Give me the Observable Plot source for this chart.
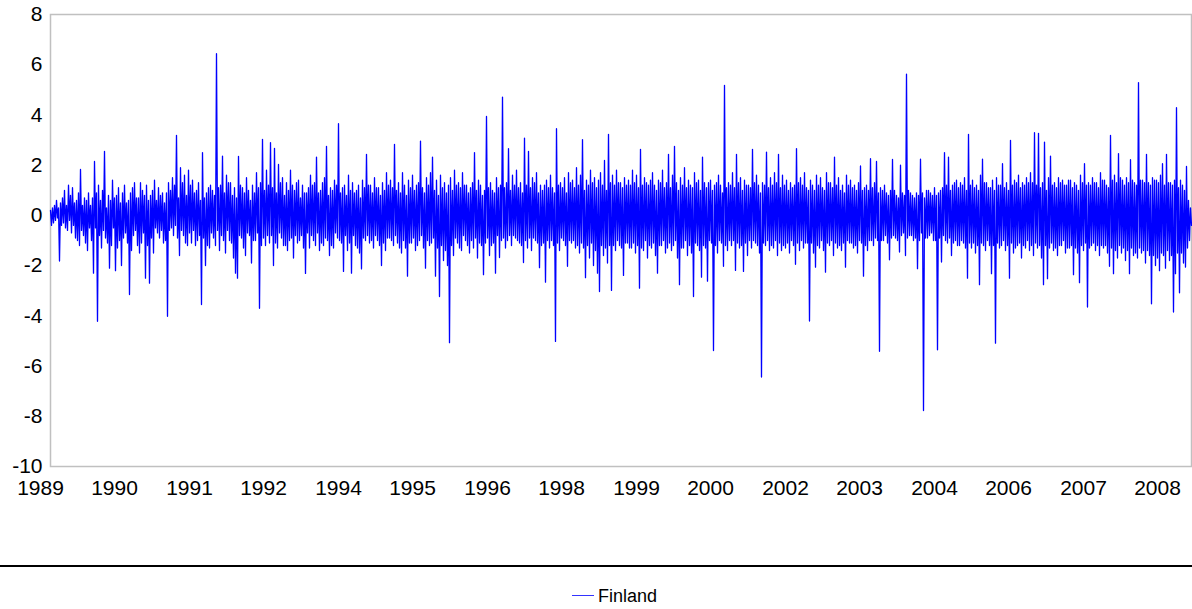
<!DOCTYPE html>
<html>
<head>
<meta charset="utf-8">
<script src="https://cdn.jsdelivr.net/npm/d3@7"></script>
<script src="https://cdn.jsdelivr.net/npm/@observablehq/plot@0.6"></script>
<style>
  html, body { margin: 0; padding: 0; background: #fff; }
  body { width: 1192px; height: 609px; overflow: hidden; font-family: "Liberation Sans", Arial, sans-serif; }
  #rule { margin-top: 55px; border-top: 2px solid #000; width: 1192px; }
  #legend { position: relative; height: 40px; }
  #legend .sw { position: absolute; left: 572px; top: 28px; width: 22px; height: 0; border-top: 1px solid #3333ff; }
  #legend .lb { position: absolute; left: 598px; top: 19px; font-size: 18px; color: #000; line-height: 20px; }
</style>
</head>
<body>
<div id="chart"></div>
<div id="rule"></div>
<div id="legend"><span class="sw"></span><span class="lb">Finland</span></div>
<script>
const seriesName = "Finland";
const finland = [
0.2,-0.4, 0.3,-0.3, 0.4,-0.2, 0.6,-0.1, 0.3,-1.82, 0.5,-0.4, 0.7,-0.3, 1.0,-0.5, 0.4,-0.6, 1.2,-0.2,
0.8,-0.7, 1.1,-0.4, 0.5,-0.9, 0.6,-1.0, 0.9,-1.2, 1.83,-0.6, 0.4,-0.8, 0.7,-1.1, 0.6,-1.4, 0.9,-0.5,
0.4,-1.0, 0.7,-2.3, 2.15,-0.5, 0.9,-4.22, 1.2,-0.8, 0.6,-1.3, 1.0,-0.6, 2.55,-0.9, 0.3,-1.1, 0.8,-2.1,
0.6,-1.2, 1.4,-0.5, 0.7,-2.2, 0.8,-1.3, 1.1,-1.0, 0.5,-2.0, 0.9,-0.9, 1.2,-0.7, 0.5,-1.1, 0.6,-3.15,
0.9,-1.4, 1.1,-0.8, 1.3,-0.6, 0.7,-1.2, 0.7,-1.5, 1.3,-1.1, 1.0,-0.7, 0.8,-2.5, 1.2,-1.2, 0.6,-2.7,
0.8,-0.9, 1.0,-1.5, 1.4,-0.5, 0.6,-0.7, 1.1,-0.9, 0.8,-0.6, 0.9,-1.1, 0.5,-1.0, 0.9,-4.02, 1.3,-0.6,
1.0,-0.5, 1.5,-0.8, 1.2,-0.4, 3.19,-0.9, 0.7,-1.6, 1.9,-0.6, 1.3,-0.8, 1.6,-1.1, 0.8,-1.2, 1.8,-0.7,
1.2,-1.1, 1.4,-0.6, 0.9,-1.2, 1.0,-1.0, 1.3,-0.8, 0.6,-3.55, 2.5,-0.9, 0.7,-2.0, 0.9,-1.2, 1.1,-1.3,
1.2,-0.7, 1.0,-0.9, 0.8,-1.2, 6.44,-0.6, 1.1,-1.4, 1.2,-0.8, 2.36,-1.0, 0.9,-1.5, 1.6,-0.6, 1.3,-1.0,
1.3,-1.1, 0.8,-1.7, 1.1,-2.3, 0.7,-2.5, 2.35,-0.8, 1.2,-0.9, 1.1,-1.3, 0.9,-1.6, 1.5,-0.7, 1.0,-0.8,
0.6,-1.9, 1.2,-1.0, 0.9,-1.0, 1.7,-0.7, 1.1,-3.7, 1.3,-1.2, 3.03,-0.9, 1.0,-1.2, 1.8,-0.8, 1.2,-1.1,
2.9,-0.8, 1.1,-2.0, 2.67,-1.1, 0.9,-1.3, 2.03,-0.7, 1.3,-0.9, 1.5,-1.2, 0.8,-1.2, 1.3,-1.4, 1.0,-1.0,
1.8,-0.9, 1.2,-1.7, 1.0,-0.8, 1.3,-1.1, 1.4,-1.0, 0.7,-0.8, 1.2,-1.3, 0.9,-2.31, 0.9,-0.7, 1.1,-1.3,
1.6,-0.8, 1.2,-1.0, 1.3,-1.2, 2.32,-0.7, 0.9,-1.4, 1.0,-1.1, 1.3,-1.2, 1.5,-0.9, 2.75,-1.0, 0.8,-1.6,
1.1,-1.2, 1.0,-1.3, 1.4,-0.7, 1.2,-0.9, 3.65,-1.0, 0.9,-1.1, 1.1,-2.23, 1.2,-0.8, 0.8,-1.4, 1.6,-1.1,
1.0,-2.3, 1.3,-0.8, 0.9,-1.2, 1.0,-1.3, 1.2,-1.5, 0.7,-2.13, 1.4,-0.9, 1.1,-1.0, 2.43,-0.8, 1.2,-1.1,
1.2,-1.0, 0.9,-1.3, 1.5,-0.8, 1.1,-1.0, 1.1,-1.2, 0.8,-2.0, 1.3,-1.1, 1.0,-1.4, 1.7,-0.9, 1.2,-0.9,
1.4,-1.0, 1.1,-1.2, 2.83,-0.8, 1.0,-1.1, 1.3,-1.3, 0.9,-1.5, 1.7,-1.0, 1.2,-1.3, 0.8,-2.42, 1.4,-1.1,
1.1,-1.1, 1.6,-0.9, 1.0,-1.4, 1.2,-1.2, 1.3,-1.0, 2.96,-0.8, 1.1,-1.3, 0.9,-2.1, 1.5,-1.0, 1.2,-1.2,
1.7,-1.1, 2.32,-0.9, 1.0,-2.42, 1.4,-1.3, 0.8,-3.23, 1.6,-1.2, 1.1,-1.8, 1.3,-1.4, 0.9,-2.0, 1.2,-5.07,
1.5,-1.2, 1.0,-1.6, 1.8,-0.9, 1.2,-1.1, 1.3,-1.3, 1.1,-1.4, 1.7,-0.8, 1.2,-1.0, 1.2,-1.2, 0.9,-1.5,
1.1,-1.0, 1.3,-1.3, 2.5,-0.9, 1.0,-1.7, 1.4,-1.1, 1.2,-1.2, 0.8,-2.36, 1.0,-1.1, 3.94,-0.9, 1.1,-1.6,
1.3,-1.2, 1.0,-1.1, 0.9,-2.3, 1.5,-0.8, 1.1,-1.68, 1.2,-1.0, 4.71,-0.9, 1.1,-1.3, 1.3,-1.0, 2.66,-0.8,
1.0,-1.2, 1.6,-0.8, 1.2,-0.9, 1.8,-1.0, 1.1,-1.1, 1.3,-1.2, 0.9,-1.88, 3.08,-1.0, 1.2,-1.3, 2.55,-0.9,
1.1,-1.4, 1.5,-0.9, 1.3,-1.0, 1.7,-1.1, 0.9,-2.08, 1.2,-1.2, 1.0,-1.1, 1.2,-2.66, 1.4,-1.0, 1.1,-1.3,
1.6,-1.0, 1.1,-1.2, 0.9,-5.02, 3.45,-1.1, 1.2,-1.4, 1.3,-0.9, 1.1,-1.0, 1.5,-1.2, 0.9,-2.03, 1.7,-1.0,
1.3,-1.1, 1.4,-1.0, 1.1,-1.3, 1.9,-1.2, 1.2,-1.5, 1.6,-1.1, 3.02,-1.3, 1.0,-2.48, 1.4,-1.2, 1.2,-1.7,
1.8,-1.1, 1.3,-2.0, 1.5,-1.4, 1.1,-2.3, 1.4,-3.03, 1.7,-1.2, 1.2,-1.6, 2.19,-1.3, 1.0,-1.9, 3.23,-1.2,
1.3,-2.99, 1.6,-1.2, 1.2,-1.4, 1.8,-1.0, 1.3,-1.2, 1.3,-1.3, 1.1,-2.39, 1.5,-1.1, 1.2,-1.1, 1.4,-1.3,
1.2,-1.3, 1.8,-1.1, 1.3,-1.5, 1.6,-1.2, 1.1,-2.9, 2.63,-1.3, 1.2,-1.4, 1.5,-1.0, 1.3,-1.7, 1.2,-1.2,
1.4,-1.3, 1.7,-1.1, 1.2,-1.6, 1.0,-2.3, 1.4,-1.2, 1.3,-1.2, 1.8,-1.0, 1.1,-1.5, 1.3,-1.3, 2.43,-1.1,
1.1,-1.4, 1.6,-1.2, 2.75,-1.0, 1.3,-1.7, 1.0,-2.76, 1.5,-1.3, 1.2,-1.3, 1.9,-1.0, 1.1,-1.6, 1.4,-1.2,
1.2,-1.5, 1.1,-3.23, 1.7,-1.1, 1.3,-1.2, 1.4,-1.4, 1.0,-2.46, 2.32,-1.2, 1.3,-1.3, 1.1,-2.62, 1.3,-1.0,
1.4,-1.1, 1.0,-5.38, 1.2,-1.2, 1.3,-1.5, 1.6,-1.0, 1.2,-1.1, 0.9,-2.03, 5.18,-1.2, 1.1,-1.4, 1.3,-1.0,
1.2,-1.2, 1.7,-1.0, 1.1,-2.19, 2.43,-1.1, 1.3,-1.3, 1.5,-1.2, 1.0,-2.23, 1.4,-1.1, 1.2,-1.6, 1.2,-1.0,
1.1,-1.3, 2.63,-1.0, 1.3,-1.1, 1.6,-1.2, 1.2,-1.5, 0.9,-6.44, 1.3,-1.1, 1.2,-1.2, 2.52,-1.0, 1.1,-1.4,
1.5,-1.2, 1.2,-1.3, 1.7,-1.0, 1.3,-1.6, 2.43,-1.1, 1.1,-1.4, 1.6,-1.2, 1.2,-1.3, 1.4,-1.1, 1.0,-1.5,
1.3,-1.0, 1.1,-1.2, 1.2,-1.95, 2.66,-1.1, 1.3,-1.4, 1.5,-1.0, 1.2,-1.3, 1.7,-1.1, 1.1,-1.1, 1.0,-4.21,
1.4,-1.1, 1.2,-1.5, 1.0,-2.06, 1.6,-1.2, 1.2,-1.3, 1.5,-1.0, 1.1,-1.4, 1.0,-2.26, 1.7,-1.1, 1.3,-1.2,
1.3,-1.0, 1.1,-1.6, 2.32,-1.1, 1.2,-1.3, 1.5,-1.2, 1.0,-1.4, 1.2,-1.1, 0.9,-2.06, 1.6,-1.0, 1.2,-1.1,
1.4,-1.1, 1.1,-1.3, 1.2,-1.2, 1.0,-1.5, 1.3,-1.0, 1.97,-1.1, 1.0,-2.42, 1.1,-1.2, 1.2,-1.4, 1.0,-1.0,
2.26,-1.0, 1.1,-1.2, 1.3,-0.9, 2.15,-1.0, 0.9,-5.41, 1.1,-1.0, 1.0,-1.0, 1.2,-0.8, 0.9,-1.1, 0.8,-1.77,
1.0,-0.9, 2.23,-0.8, 1.0,-0.9, 0.8,-1.0, 0.7,-1.46, 2.0,-0.8, 0.9,-0.7, 0.8,-1.6, 5.62,-0.9, 1.0,-0.8,
0.9,-0.8, 0.8,-1.0, 0.7,-0.9, 0.9,-2.12, 0.8,-1.0, 2.24,-0.7, 0.9,-7.77, 0.7,-0.9, 1.0,-0.9, 1.0,-0.8,
0.9,-0.7, 0.8,-1.0, 1.1,-1.0, 0.8,-5.35, 0.9,-0.9, 1.0,-1.86, 1.1,-0.8, 2.5,-1.0, 1.2,-1.1, 2.32,-0.9,
1.0,-1.6, 1.2,-1.1, 1.3,-1.0, 1.4,-1.2, 1.1,-1.2, 1.3,-1.0, 1.2,-1.1, 1.5,-1.3, 1.0,-2.5, 3.23,-1.1,
1.2,-1.3, 1.4,-1.1, 1.1,-1.5, 1.2,-1.2, 1.0,-2.76, 1.6,-1.1, 2.24,-1.2, 1.3,-1.4, 1.3,-1.0, 1.1,-1.2,
1.1,-2.32, 1.4,-1.2, 1.0,-5.09, 1.5,-1.1, 1.2,-1.3, 1.2,-1.2, 2.06,-1.0, 1.1,-1.4, 1.3,-1.2, 1.0,-2.5,
2.99,-1.1, 1.2,-1.5, 1.4,-1.3, 1.3,-1.2, 1.6,-1.1, 1.1,-1.7, 1.3,-1.2, 1.2,-1.3, 1.5,-1.0, 1.3,-1.4,
1.7,-1.2, 1.3,-1.6, 3.29,-1.1, 1.2,-1.3, 3.27,-1.2, 1.1,-1.7, 1.3,-2.76, 2.92,-1.2, 1.0,-2.52, 1.5,-1.3,
2.36,-1.1, 1.2,-1.4, 1.3,-1.3, 1.1,-1.6, 1.5,-1.2, 1.3,-1.2, 1.4,-1.0, 1.2,-1.5, 1.2,-1.3, 1.4,-1.3,
1.4,-1.2, 1.1,-2.36, 1.3,-1.3, 1.2,-1.5, 1.0,-2.68, 1.6,-1.2, 1.3,-1.4, 2.06,-1.1, 1.2,-3.65, 1.3,-1.3,
1.2,-1.2, 1.5,-1.1, 1.3,-1.4, 1.3,-1.2, 1.1,-1.6, 1.7,-1.2, 1.4,-1.3, 1.4,-1.2, 1.2,-1.5, 1.1,-2.03,
3.19,-1.3, 1.4,-2.32, 1.6,-1.4, 1.3,-1.7, 2.46,-1.2, 1.5,-1.5, 1.4,-1.3, 1.2,-1.8, 1.5,-1.4, 1.3,-2.32,
2.22,-1.3, 1.4,-1.6, 1.3,-1.5, 1.2,-1.7, 5.29,-1.3, 1.4,-1.5, 1.4,-1.4, 1.3,-1.9, 2.43,-1.4, 1.3,-1.6,
1.2,-3.52, 1.5,-1.6, 1.4,-2.0, 1.4,-1.7, 1.3,-2.2, 1.6,-1.5, 2.06,-1.6, 1.2,-2.1, 2.43,-1.4, 1.3,-1.8,
1.3,-1.6, 1.2,-3.85, 1.4,-2.32, 4.29,-1.5, 1.1,-3.08, 1.4,-1.5, 1.2,-1.9, 1.0,-2.06, 1.95,-1.3, 0.6,-1.0, 0.3,-0.4
];

// Category-axis labels and the sample index where each is drawn
const tickLabels = ["1989","1990","1991","1992","1994","1995","1996","1998","1999","2000","2002","2003","2004","2006","2007","2008"];
const tickIndex = [-10, 64, 139, 213, 288, 362, 437, 511, 586, 660, 735, 809, 884, 958, 1033, 1107];
const yTicks = [8, 6, 4, 2, 0, -2, -4, -6, -8, -10];

const chart = Plot.plot({
  width: 1192,
  height: 510,
  marginTop: 14,
  marginBottom: 44,
  marginLeft: 50,
  marginRight: 1,
  style: { fontFamily: "'Liberation Sans', Arial, sans-serif", color: "#000", background: "#fff" },
  x: { domain: [0, 1141], axis: null },
  y: { domain: [-10, 8] },
  marks: [
    Plot.frame({ stroke: "#c0c0c0", strokeWidth: 1.5 }),
    Plot.lineY(finland, { x: (d, i) => i, y: d => d, stroke: "#0000ff", strokeWidth: 1.3 }),
    Plot.axisY({ ticks: yTicks, tickSize: 0, tickPadding: 8, fontSize: 21, label: null, tickFormat: d => String(d) }),
    Plot.text(tickLabels, { x: (d, i) => tickIndex[i], frameAnchor: "bottom", dy: 28, text: d => d, fontSize: 21, fill: "#000" })
  ]
});
document.getElementById("chart").appendChild(chart);
</script>
</body>
</html>
